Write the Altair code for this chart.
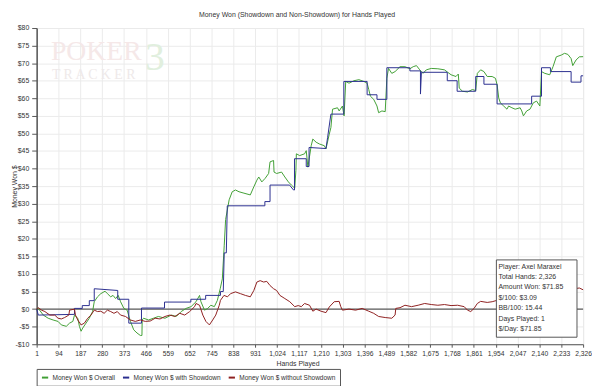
import altair as alt
import pandas as pd

hands_ticks = [1, 94, 187, 280, 373, 466, 559, 652, 745, 838, 931, 1024, 1117, 1210,
               1303, 1396, 1489, 1582, 1675, 1768, 1861, 1954, 2047, 2140, 2233, 2326]
money_ticks = list(range(-10, 85, 5))

series_names = ["Money Won $ Overall", "Money Won $ with Showdown", "Money Won $ without Showdown"]
series_colors = ["#41a035", "#2b2f8f", "#8e2020"]

overall = [(1, 0), (8, 0.2), (29, -1.7), (50, -2.6), (71, -3.1), (92, -3.5), (106, -4.5), (127, -4.9),
           (141, -4.0), (155, -3.5), (162, -1.7), (176, -2.6), (183, -4.9), (190, -6.3), (197, -5.4),
           (211, -4.0), (225, -2.6), (239, -0.7), (246, 2.1), (260, 3.5), (274, 4.4), (292, 5.1),
           (302, 4.4), (316, 3.5), (326, 3.9), (337, 3.0), (348, 3.9), (358, 2.1), (372, 0.2),
           (386, -0.3), (400, -3.5), (414, -5.9), (428, -6.8), (442, -7.5), (449, -7.5), (450, -3.1),
           (456, -2.6), (477, -3.1), (498, -2.6), (519, -2.1), (547, -2.6), (574, -1.7), (595, -2.1),
           (616, -0.7), (637, 0.2), (658, 0.7), (679, 2.1), (694, 3.9), (700, 2.1), (715, -0.3),
           (729, 0.2), (742, 1.1), (757, 0.7), (770, 2.5), (782, 5.8), (791, 8.6), (799, 18.0),
           (805, 25.5), (820, 31.1), (833, 33.4), (847, 33.9), (862, 33.4), (883, 33.0), (910, 32.5),
           (925, 34.8), (938, 36.7), (946, 37.6), (959, 36.2), (973, 37.2), (988, 38.6), (994, 41.9),
           (1009, 42.3), (1011, 39.0), (1022, 38.6), (1043, 39.0), (1057, 37.6), (1072, 36.2),
           (1085, 35.3), (1099, 34.4), (1104, 39.5), (1106, 44.2), (1120, 43.7), (1141, 44.2),
           (1148, 45.1), (1155, 40.4), (1169, 46.5), (1176, 48.4), (1190, 47.5), (1204, 47.0),
           (1225, 46.5), (1232, 45.6), (1246, 49.8), (1253, 51.7), (1260, 56.9), (1281, 57.3),
           (1288, 56.4), (1302, 57.8), (1309, 55.0), (1316, 64.8), (1330, 64.3), (1351, 65.0),
           (1372, 65.3), (1393, 64.8), (1407, 64.3), (1414, 62.5), (1421, 60.6), (1435, 59.7),
           (1449, 57.8), (1456, 55.9), (1470, 56.4), (1484, 56.2), (1491, 65.7), (1498, 68.5),
           (1512, 67.1), (1526, 67.6), (1547, 69.0), (1568, 69.0), (1589, 68.4), (1603, 69.0),
           (1617, 69.3), (1631, 68.1), (1645, 67.1), (1659, 68.1), (1680, 68.5), (1708, 68.4),
           (1736, 68.1), (1750, 67.4), (1764, 66.7), (1785, 66.2), (1795, 66.9), (1799, 62.9),
           (1813, 62.0), (1834, 61.8), (1855, 62.5), (1869, 62.2), (1876, 67.1), (1890, 68.1),
           (1904, 67.6), (1918, 66.2), (1939, 66.2), (1953, 65.7), (1960, 63.9), (1967, 60.1),
           (1974, 58.7), (1988, 57.8), (2002, 56.9), (2009, 57.8), (2023, 57.3), (2037, 56.9),
           (2058, 57.3), (2065, 56.4), (2072, 55.0), (2086, 56.4), (2100, 56.9), (2114, 58.7),
           (2128, 59.2), (2142, 57.8), (2149, 67.6), (2163, 67.1), (2184, 66.7), (2198, 69.0),
           (2212, 71.8), (2233, 72.3), (2247, 72.8), (2261, 72.5), (2275, 71.3), (2282, 69.3),
           (2296, 70.9), (2310, 71.8), (2326, 71.85)]

showdown = [(1, 0), (8, -1.7), (162, -1.5), (162, 0.2), (195, 0.2), (195, 1.0), (225, 1.0), (225, 2.4),
            (246, 2.4), (246, 5.8), (346, 5.3), (346, 2.8), (393, 2.8), (393, -4.0), (447, -4.0),
            (447, 0.3), (545, 0.3), (545, 2.0), (657, 2.0), (657, 2.8), (720, 2.8), (720, 3.9),
            (783, 3.9), (783, 5.0), (795, 5.0), (799, 16.0), (808, 16.0), (812, 29.4), (972, 29.4),
            (972, 30.6), (994, 30.6), (994, 35.3), (1077, 35.3), (1094, 33.9), (1098, 33.9),
            (1098, 42.8), (1148, 42.8), (1148, 40.6), (1160, 40.6), (1160, 46.0), (1232, 45.7),
            (1239, 48.9), (1253, 55.5), (1308, 55.5), (1308, 64.8), (1407, 64.8), (1407, 61.0),
            (1449, 61.0), (1449, 59.7), (1491, 59.7), (1491, 68.7), (1589, 68.7), (1589, 67.8),
            (1634, 67.8), (1634, 61.2), (1638, 67.4), (1748, 67.4), (1748, 65.0), (1790, 65.0),
            (1790, 62.0), (1869, 62.0), (1869, 66.2), (1904, 66.2), (1904, 64.0), (1960, 64.0),
            (1960, 58.4), (2107, 58.4), (2107, 60.6), (2149, 60.6), (2149, 68.7), (2187, 68.7),
            (2187, 67.6), (2275, 67.6), (2275, 64.6), (2317, 64.6), (2317, 66.4), (2326, 66.4)]

non_showdown = [(1, 0), (8, 0.4), (22, -0.3), (36, -0.7), (57, -1.7), (78, -1.7), (92, -2.6), (106, -2.8),
                (120, -2.4), (138, -1.7), (141, -0.3), (162, 0.0), (166, -1.7), (176, -3.1), (190, -4.5),
                (204, -4.0), (218, -2.6), (232, -1.7), (246, -0.3), (260, -0.7), (274, -0.6), (288, -1.2),
                (302, -0.3), (316, -0.7), (330, -1.2), (344, -0.7), (358, -1.7), (379, -2.1), (400, -3.1),
                (421, -3.5), (442, -3.1), (463, -3.5), (484, -3.4), (505, -2.6), (526, -2.8), (547, -2.1),
                (568, -1.7), (589, -2.1), (610, -1.2), (631, -1.7), (652, -0.7), (673, 0.7), (679, 1.6),
                (694, 1.1), (708, -1.7), (721, -3.5), (736, -4.5), (750, -3.1), (763, -1.7), (778, 1.1),
                (783, 2.5), (798, 3.9), (813, 3.5), (826, 4.4), (847, 4.9), (868, 4.4), (889, 3.9),
                (910, 3.5), (925, 5.3), (938, 7.7), (952, 8.1), (967, 7.7), (980, 7.9), (994, 6.7),
                (1009, 5.8), (1022, 5.3), (1036, 3.9), (1057, 3.0), (1078, 2.1), (1099, 0.7), (1114, 1.0),
                (1127, 0.7), (1141, 1.6), (1162, 1.1), (1176, -0.6), (1190, 0.0), (1211, -0.6),
                (1232, -1.0), (1246, 0.6), (1267, 2.1), (1288, 2.2), (1295, 0.7), (1302, -0.3),
                (1330, 0.0), (1358, -0.3), (1386, 0.2), (1414, -0.6), (1435, -1.2), (1456, -2.1),
                (1484, -2.4), (1512, -2.6), (1526, -1.7), (1529, 0.2), (1547, 0.4), (1568, 1.1),
                (1596, 0.7), (1624, 1.1), (1652, 1.6), (1680, 1.3), (1708, 1.1), (1736, 1.3), (1764, 1.0),
                (1792, 1.1), (1820, 0.7), (1834, -0.3), (1848, -0.7), (1862, 0.2), (1876, 1.6),
                (1890, 2.2), (1918, 1.9), (1939, 2.1), (1960, 2.5), (2050, 3.0), (2150, 4.5),
                (2250, 5.5), (2310, 6.0), (2326, 5.5)]

stats_lines = ["Player: Axel Maraxel", "Total Hands: 2,326", "Amount Won: $71.85", "$/100: $3.09",
               "BB/100: 15.44", "Days Played: 1", "$/Day: $71.85"]
stats_line_y = [12.1, 9.1, 6.2, 3.2, 0.2, -2.7, -5.7]
stats_box = {"hand": 1957, "hand2": 2300, "won": 14.0, "won2": -8.0}
stats_text_x = 1966

FONT = "Liberation Sans"

rows = []
for name, pts in zip(series_names, [overall, showdown, non_showdown]):
    for i, (h, w) in enumerate(pts):
        rows.append({"series": name, "hand": h, "won": w, "idx": i})
df = pd.DataFrame(rows)

x_scale = alt.Scale(domain=[1, 2326], nice=False, zero=False)
y_scale = alt.Scale(domain=[-10, 80], nice=False, zero=False)

x_axis = alt.Axis(values=hands_ticks, labelExpr="format(datum.value, ',')", title="Hands Played",
                  grid=True, gridColor="#ebebeb", domainColor="#555", tickColor="#555", tickSize=3,
                  labelFont=FONT, labelFontSize=6.8, labelColor="#333", labelPadding=3,
                  labelFlush=False, labelOverlap=False,
                  titleFont=FONT, titleFontSize=7, titleFontWeight="normal", titleColor="#333",
                  titleX=264, titleY=20, titleBaseline="middle")
y_axis = alt.Axis(values=money_ticks,
                  labelExpr="datum.value < 0 ? '-$' + abs(datum.value) : '$' + datum.value",
                  title="Money Won $", grid=True, gridColor="#ebebeb", domainColor="#555",
                  domainWidth=1.5, tickColor="#555", tickSize=5, labelFont=FONT, labelFontSize=7,
                  labelColor="#333", labelPadding=3, labelFlush=False, labelOverlap=False,
                  titleFont=FONT, titleFontSize=7, titleFontWeight="normal", titleColor="#333",
                  titleX=-22, titleY=160, titleBaseline="middle", titleAngle=-90)


def X():
    return alt.X("hand:Q", scale=x_scale, axis=x_axis)


def Y():
    return alt.Y("won:Q", scale=y_scale, axis=y_axis)


def wm_text(text, hand, won, size, color):
    return alt.Chart(pd.DataFrame({"text": [text], "hand": [hand], "won": [won]})).mark_text(
        font="Liberation Serif", align="left", baseline="alphabetic", fontSize=size, color=color
    ).encode(x=X(), y=Y(), text="text:N")


watermark = [
    wm_text("POKER", 62, 70.8, 28, "#f5e8e8"),
    wm_text("T R A C K E R", 66, 65.4, 14, "#eee9e9"),
    wm_text("3", 462, 68.0, 40, "#e1efde"),
]

zero = alt.Chart(pd.DataFrame({"hand": [1], "won": [0]})).mark_rule(color="#333", strokeWidth=1).encode(
    y=Y())

lines = alt.Chart(df).mark_line(strokeWidth=1).encode(
    x=X(), y=Y(),
    color=alt.Color("series:N", sort=series_names,
                    scale=alt.Scale(domain=series_names, range=series_colors),
                    legend=alt.Legend(title=None, orient="none", legendX=0, legendY=345,
                                      direction="horizontal", symbolType="stroke",
                                      symbolStrokeWidth=2, symbolSize=40,
                                      labelFont=FONT, labelFontSize=6.6, labelColor="#333",
                                      strokeColor="#555", fillColor="white", padding=4,
                                      columnPadding=3, labelOffset=3)),
    order=alt.Order("idx:Q"),
)

box = alt.Chart(pd.DataFrame([stats_box])).mark_rect(fill="white", stroke="#555", strokeWidth=1).encode(
    x=X(), x2="hand2:Q", y=Y(), y2="won2:Q")

stats = alt.Chart(pd.DataFrame({"text": stats_lines, "won": stats_line_y,
                                "hand": [stats_text_x] * len(stats_lines)})).mark_text(
    font=FONT, fontSize=7, align="left", baseline="middle", color="#333").encode(
    x=X(), y=Y(), text="text:N")

chart = alt.layer(*watermark, zero, lines, box, stats).properties(
    width=553, height=320,
    title=alt.TitleParams("Money Won (Showdown and Non-Showdown) for Hands Played", font=FONT,
                          fontSize=7, fontWeight="normal", color="#333", anchor="middle",
                          offset=6, dx=-13),
    autosize=alt.AutoSizeParams(type="none"),
    padding={"left": 29, "top": 18, "right": 9, "bottom": 40},
).configure_view(stroke="#666", strokeWidth=1).configure(background="white")

chart.save("out.html", embed_options={"renderer": "svg", "actions": False})
